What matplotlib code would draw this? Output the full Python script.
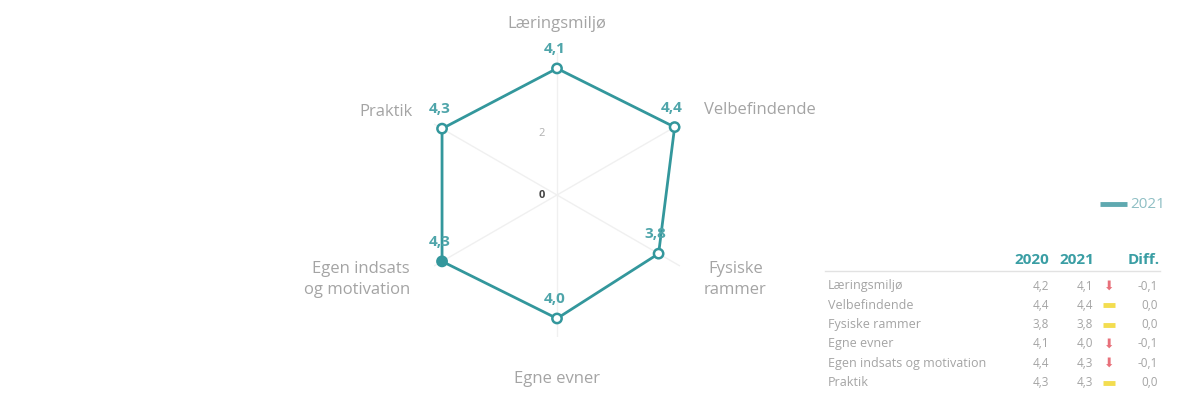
import numpy as np
import matplotlib
matplotlib.use("Agg")
import matplotlib.pyplot as plt
from matplotlib.lines import Line2D

plt.rcParams['font.family'] = ['Open Sans', 'DejaVu Sans']

# ---- data ----
categories = ["Læringsmiljø", "Velbefindende", "Fysiske\nrammer", "Egne evner",
              "Egen indsats\nog motivation", "Praktik"]
table_labels = ["Læringsmiljø", "Velbefindende", "Fysiske rammer", "Egne evner",
                "Egen indsats og motivation", "Praktik"]
values_2021 = [4.1, 4.4, 3.8, 4.0, 4.3, 4.3]
values_2020 = [4.2, 4.4, 3.8, 4.1, 4.4, 4.3]
diff = [-0.1, 0.0, 0.0, -0.1, -0.1, 0.0]
radial_ticks = [0, 2]
series_name = "2021"
col_headers = ["2020", "2021", "Diff."]

# ---- style ----
TEAL = "#33979c"
TEAL_LBL = "#4fa5aa"
GRAY = "#a4a4a4"
RED = "#e8707a"
YELLOW = "#f3dd50"

W, H = 1189, 403
fig = plt.figure(figsize=(W / 100, H / 100), dpi=100)
fig.patch.set_facecolor("white")

def fx(px):
    return px / W

def fy(py):
    return 1 - py / H

cx, cy = 557, 195
rmax = 4.6
rad_px = 142
ax = fig.add_axes([fx(cx - rad_px), fy(cy + rad_px), 2 * rad_px / W, 2 * rad_px / H],
                  projection="polar")
ax.set_theta_zero_location("N")
ax.set_theta_direction(-1)
ax.set_ylim(0, rmax)
ax.set_facecolor("none")
ax.spines["polar"].set_visible(False)
ax.set_yticks([])
ax.yaxis.grid(False)

n = len(categories)
theta = np.arange(n) * 2 * np.pi / n
ax.set_xticks(theta)
ax.set_xticklabels([])
ax.xaxis.grid(True, color="#f0f0f0", linewidth=1.0)

# radial tick labels
for t in radial_ticks:
    ax.annotate(str(t), xy=(0, t), xytext=(-11, 0), textcoords="offset points",
                ha="center", va="center", fontsize=8,
                color="#444444" if t == 0 else "#b0b0b0",
                fontweight="bold" if t == 0 else "normal")

# series polygon
th_closed = np.append(theta, theta[0])
v_closed = np.append(values_2021, values_2021[0])
ax.plot(th_closed, v_closed, color=TEAL, linewidth=2.0, zorder=3)
faces = ["white"] * n
faces[4] = TEAL
ax.scatter(theta, values_2021, s=45, facecolors=faces, edgecolors=TEAL,
           linewidths=1.8, zorder=4)

# value labels
for th, v in zip(theta, values_2021):
    ax.annotate(f"{v:.1f}".replace(".", ","), xy=(th, v), xytext=(-2, 14),
                textcoords="offset points", ha="center", va="center",
                fontsize=11, fontweight="bold", color=TEAL_LBL, zorder=5)

# category labels
label_r = [5.55, 5.5, 5.5, 5.95, 5.5, 5.4]
ha_list = ["center", "left", "left", "center", "right", "right"]
for th, lab, r, ha in zip(theta, categories, label_r, ha_list):
    ax.text(th, r, lab, ha=ha, va="center", fontsize=12, color=GRAY,
            multialignment="center" if ha != "right" else "right",
            linespacing=1.4)

# legend
fig.add_artist(Line2D([fx(1100), fx(1127)], [fy(204), fy(204)], color="#5fa9b0",
                      linewidth=3.5, solid_capstyle="butt"))
fig.text(fx(1130), fy(204), series_name, ha="left", va="center", fontsize=11,
         color="#8fbfc4")

# table
hdr_y = 260
col_right = [1049, 1094, 1160]
for x, h in zip(col_right, col_headers):
    fig.text(fx(x), fy(hdr_y), h, ha="right", va="center", fontsize=11,
             fontweight="bold", color="#3a9ea4")
fig.add_artist(Line2D([fx(825), fx(1160)], [fy(271), fy(271)], color="#e2e2e2",
                      linewidth=1.0))
row_y0, row_dy = 286, 19.3
for i, lab in enumerate(table_labels):
    y = row_y0 + i * row_dy
    fig.text(fx(828), fy(y), lab, ha="left", va="center", fontsize=9, color=GRAY)
    fig.text(fx(col_right[0]), fy(y), f"{values_2020[i]:.1f}".replace(".", ","),
             ha="right", va="center", fontsize=8.5, color=GRAY)
    fig.text(fx(col_right[1] - 1), fy(y), f"{values_2021[i]:.1f}".replace(".", ","),
             ha="right", va="center", fontsize=8.5, color=GRAY)
    if diff[i] < 0:
        fig.text(fx(1109), fy(y), "⬇", ha="center", va="center", fontsize=9,
                 color=RED, family="DejaVu Sans")
    else:
        fig.add_artist(Line2D([fx(1103), fx(1115)], [fy(y), fy(y)], color=YELLOW,
                              linewidth=3.5, solid_capstyle="butt"))
    fig.text(fx(col_right[2] - 2), fy(y), f"{diff[i]:.1f}".replace(".", ","),
             ha="right", va="center", fontsize=8.5, color=GRAY)

fig.savefig("out.png", dpi=100, facecolor="white")
